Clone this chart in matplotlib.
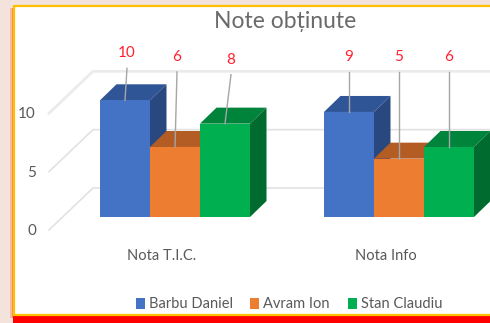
import matplotlib
matplotlib.use('Agg')
import matplotlib.pyplot as plt
from matplotlib.patches import Polygon, Rectangle

plt.rcParams['font.family'] = ['Lato', 'DejaVu Sans']

categories = ['Nota T.I.C.', 'Nota Info']
students = ['Barbu Daniel', 'Avram Ion', 'Stan Claudiu']
barbu = [10, 9]
avram = [6, 5]
stan = [8, 6]
y_ticks = [0, 5, 10]

front_colors = ['#4472C4', '#ED7D31', '#00B050']
top_colors = ['#2F5597', '#B35D24', '#00843C']
side_colors = ['#2A4880', '#9A4F1E', '#006B2E']

W, H = 490, 323
fig = plt.figure(figsize=(W / 100, H / 100), dpi=100, facecolor='#F4E3DC')

# frame, in pixels
bg = fig.add_axes([0, 0, 1, 1])
bg.set_xlim(0, W)
bg.set_ylim(H, 0)
bg.axis('off')
bg.add_patch(Rectangle((10, 8), 6, 310, color='#F7B9A0', lw=0))
bg.add_patch(Rectangle((12, 8), 3, 310, color='#FF8A50', lw=0))
bg.add_patch(Rectangle((13, 315), W, 8, color='#FF0000', lw=0))
bg.add_patch(Rectangle((14, 6), W, 309, facecolor='white', edgecolor='#FFC000', lw=1.6))

# bars axes: x is the group number, y is the mark
px_unit = 224.0
val_unit = 11.67
ax = fig.add_axes([0, 0, 1, 1])
ax.patch.set_alpha(0)
ax.set_xlim(-175 / px_unit, (W - 175) / px_unit)
ax.set_ylim(-(H - 217) / val_unit, 217 / val_unit)
ax.axis('off')

bar_w = 50 / px_unit
dx = 16.5 / px_unit
dy = 16 / val_unit
wall_x0 = -82 / px_unit
wall_x1 = (W - 175) / px_unit
front_x0 = -126 / px_unit
wall_dy = 29 / val_unit
front_dy = -13 / val_unit

# back wall gridlines and the slanted lines on the left
for t in y_ticks:
    ax.plot([front_x0, wall_x0, wall_x1], [t + front_dy, t + wall_dy, t + wall_dy],
            color='#EBEBEB' if t == 10 else '#E2E2E2', lw=2 if t == 10 else 1.2, zorder=1,
            solid_joinstyle='miter')
    ax.text(front_x0 - 13 / px_unit, t + front_dy - 1 / val_unit, str(t), ha='right', va='center',
            fontsize=11, color='#595959')

label_shift = [[(2, 32), (2, 75), (6, 49)], [(0, 40), (0, 87), (0, 75)]]
series = [barbu, avram, stan]

for g in range(len(categories)):
    for s in range(len(students)):
        v = series[s][g]
        x0 = g + (s - 1.5) * bar_w
        x1 = x0 + bar_w
        ax.add_patch(Polygon([(x0, v), (x0 + dx, v + dy), (x1 + dx, v + dy), (x1, v)],
                             color=top_colors[s], lw=0, zorder=3))
        ax.add_patch(Polygon([(x1, 0), (x1 + dx, dy), (x1 + dx, v + dy), (x1, v)],
                             color=side_colors[s], lw=0, zorder=3))
        ax.add_patch(Rectangle((x0, 0), bar_w, v, color=front_colors[s], lw=0, zorder=4))
        # data label with leader line
        xc = (x0 + x1) / 2
        sx, length = label_shift[g][s]
        ax.plot([xc, xc + sx / px_unit], [v, v + length / val_unit], color='#A6A6A6', lw=1, zorder=5)
        ax.text(xc + sx / px_unit, v + (length + 15) / val_unit, str(v), ha='center', va='center',
                fontsize=11, color='#FF2030', zorder=6)
    ax.text(g - 13 / px_unit, -39 / val_unit, categories[g], ha='center', va='center',
            fontsize=10.5, color='#595959')

bg.text(285, 21, 'Note obținute', ha='center', va='center', fontsize=16.5, color='#6A6A6A')

# legend
legend_x = [136, 250, 348]
for name, c, lx in zip(students, front_colors, legend_x):
    bg.add_patch(Rectangle((lx, 298), 9, 11, color=c, lw=0))
    bg.text(lx + 13, 303.5, name, ha='left', va='center', fontsize=10.5, color='#595959')

fig.savefig('out.png', dpi=100, facecolor=fig.get_facecolor())
